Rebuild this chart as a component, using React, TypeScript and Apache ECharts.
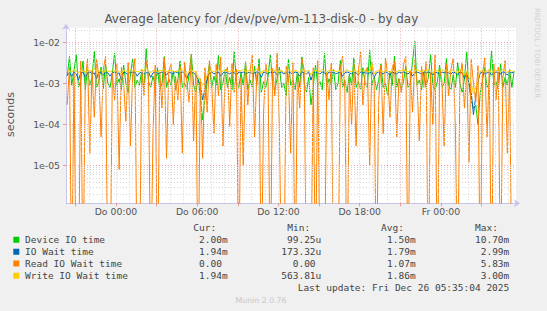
import React, { useEffect, useRef } from 'react';
import * as echarts from 'echarts';

const TITLE = 'Average latency for /dev/pve/vm-113-disk-0 - by day';
const Y_NAME = 'seconds';
const START_HOUR = -3.6;
const STEP_HOUR = 1 / 6;
const X_MIN = -3.69;
const X_MAX = 29.54;
const Y_MIN = -5.917;
const Y_MAX = -1.645;
const X_LABEL_HOURS = [0, 6, 12, 18, 24];
const X_LABELS = ['Do 00:00', 'Do 06:00', 'Do 12:00', 'Do 18:00', 'Fr 00:00'];
const X_MAJOR_GRID = [-3, 3, 9, 15, 21, 27];
const X_TICKS = [-3, 0, 3, 6, 9, 12, 15, 18, 21, 24, 27];
const Y_LABEL_LOGS = [-5, -4, -3, -2];
const Y_LABELS = ['1e-05', '1e-04', '1e-03', '1e-02'];

const NAMES = ['Device IO time', 'IO Wait time', 'Read IO Wait time', 'Write IO Wait time'];
const COLORS = ['#00cc00', '#0066b3', '#ff8000', '#ffcc00'];
const CUR = ['2.00m', '1.94m', '0.00 ', '1.94m'];
const MIN = ['99.25u', '173.32u', '0.00 ', '563.81u'];
const AVG = ['1.50m', '1.79m', '1.07m', '1.86m'];
const MAX = ['10.70m', '2.99m', '5.83m', '3.00m'];
const LAST_UPDATE = 'Last update: Fri Dec 26 05:35:04 2025';
const FOOTER = 'Munin 2.0.76';
const WATERMARK = 'RRDTOOL / TOBI OETIKER';

// values in milliseconds, 10-minute steps
const DEVICE_IO = [
  1.5, 4.5, 0.9, 2.0, 5.0, 0.8, 1.2, 3.5, 0.7, 2.2,
  0.9, 1.4, 6.0, 0.8, 1.1, 2.5, 0.75, 3.0, 1.0, 0.8,
  1.8, 5.5, 0.9, 1.3, 0.7, 2.8, 1.0, 0.6, 1.6, 4.0,
  0.8, 1.2, 0.9, 2.0, 0.7, 7.0, 1.1, 0.8, 1.5, 0.9,
  2.4, 0.7, 1.0, 4.5, 0.8, 1.3, 0.9, 2.0, 0.7, 1.2,
  3.5, 0.8, 1.0, 0.75, 1.6, 5.2, 0.9, 0.6, 1.3, 0.5,
  0.13, 0.4, 1.1, 3.0, 0.8, 1.5, 0.9, 4.8, 0.7, 1.0,
  2.2, 0.8, 1.4, 0.7, 6.0, 1.0, 0.8, 1.8, 0.9, 3.2,
  0.7, 1.2, 0.8, 2.6, 0.9, 4.0, 0.6, 1.1, 0.8, 1.5,
  5.0, 0.9, 0.7, 1.3, 2.5, 0.8, 1.0, 0.5, 3.8, 0.9,
  1.2, 0.7, 2.0, 0.8, 4.4, 1.0, 0.6, 1.4, 0.3, 0.8,
  2.8, 0.9, 1.1, 0.7, 5.5, 0.8, 1.3, 0.9, 2.2, 0.7,
  1.0, 3.6, 0.8, 1.2, 0.6, 1.7, 0.9, 4.2, 0.8, 1.1,
  0.7, 2.4, 1.0, 0.8, 6.5, 0.9, 1.5, 0.7, 1.2, 3.0,
  0.8, 1.0, 0.5, 2.0, 0.9, 4.6, 0.8, 1.3, 0.7, 1.1,
  2.6, 0.8, 1.0, 3.4, 10.7, 0.9, 1.2, 0.7, 2.0, 0.8,
  1.4, 5.0, 0.9, 0.7, 1.1, 2.8, 0.8, 1.0, 4.0, 0.9,
  0.7, 1.6, 0.8, 3.2, 1.0, 0.6, 1.3, 5.8, 0.8, 0.4,
  0.25, 0.3, 0.099, 0.6, 1.2, 2.4, 0.8, 1.0, 6.2, 0.9,
  1.1, 0.7, 3.0, 0.8, 1.4, 0.9, 2.2, 0.8, 2.0,
];
const IO_WAIT = [
  1.6, 1.8, 1.5, 1.9, 1.7, 1.2, 1.8, 1.9, 1.4, 1.8,
  1.9, 1.7, 1.8, 1.3, 1.9, 1.8, 1.6, 1.9, 1.8, 1.5,
  1.8, 1.9, 1.7, 1.8, 1.2, 1.9, 1.8, 1.6, 1.9, 1.8,
  1.9, 1.5, 1.8, 1.9, 1.7, 1.8, 1.9, 1.4, 1.8, 1.9,
  1.7, 1.8, 1.9, 1.8, 1.6, 1.9, 1.8, 1.7, 1.9, 1.8,
  1.8, 1.9, 1.7, 1.3, 1.8, 1.9, 1.8, 1.6, 1.2, 0.9,
  0.4, 0.7, 1.3, 1.8, 1.9, 1.7, 1.8, 1.9, 1.5, 1.8,
  1.9, 1.8, 1.7, 1.9, 1.8, 1.6, 1.9, 1.8, 1.9, 1.7,
  1.8, 1.9, 1.7, 1.8, 1.9, 1.8, 1.4, 1.9, 1.8, 1.7,
  1.9, 1.8, 1.9, 1.6, 1.8, 1.9, 1.7, 1.8, 1.9, 1.8,
  1.7, 1.9, 1.8, 1.5, 1.9, 1.8, 1.7, 1.9, 1.2, 1.8,
  1.9, 1.8, 1.7, 1.9, 1.8, 1.6, 1.9, 1.8, 1.9, 1.7,
  1.8, 1.9, 1.5, 1.8, 1.9, 1.8, 1.7, 1.9, 1.8, 1.6,
  1.9, 1.8, 1.9, 1.7, 1.8, 1.9, 1.4, 1.8, 1.9, 1.8,
  1.7, 1.9, 1.8, 1.6, 1.9, 1.8, 1.7, 1.9, 1.8, 1.9,
  1.8, 1.7, 1.9, 1.5, 1.8, 1.9, 1.8, 1.7, 1.9, 1.8,
  1.9, 1.8, 1.6, 1.9, 1.8, 1.7, 1.9, 1.8, 1.9, 1.8,
  1.7, 1.9, 1.8, 1.6, 1.9, 1.8, 1.3, 1.8, 1.0, 0.6,
  0.173, 0.5, 1.1, 1.8, 1.9, 1.7, 1.8, 1.9, 1.6, 1.8,
  1.9, 1.8, 1.7, 1.9, 1.8, 1.6, 1.9, 1.8, 1.94,
];
const READ_WAIT = [
  0.3, 2.5, 0, 1.8, 0, 0, 3.5, 0, 1.2, 4.0,
  0.02, 2.0, 0.15, 3.8, 1.5, 0.05, 2.2, 4.5, 0, 0,
  1.8, 0.4, 3.0, 0.008, 2.5, 1.0, 0.12, 3.2, 0.03, 1.6,
  4.0, 0, 0, 2.2, 0.5, 3.5, 1.4, 0, 0.06, 2.8,
  0, 1.9, 0.25, 4.2, 0.015, 2.0, 3.0, 0.1, 1.5, 0.4,
  2.6, 0.02, 3.3, 1.1, 0.35, 5.0, 0.04, 2.0, 0, 1.3,
  0.015, 2.4, 0.2, 3.6, 1.0, 0.06, 2.9, 0.5, 4.4, 0.03,
  1.7, 2.5, 0.09, 3.1, 0.6, 2.2, 0, 1.4, 0.01, 3.4,
  0.3, 2.0, 4.8, 0.05, 1.6, 2.7, 0, 0.2, 3.0, 1.2,
  0, 2.3, 0.5, 5.5, 0.08, 0, 0, 2.6, 1.5, 0.02,
  3.2, 0, 1.8, 0.25, 4.0, 2.1, 0, 0, 0, 2.4,
  0, 3.6, 0, 0, 0, 1.9, 0.4, 3.1, 0, 0,
  0, 2.2, 4.6, 0.7, 0, 1.5, 0.1, 3.0, 0.03, 2.0,
  5.8, 0.3, 1.7, 2.5, 0.01, 3.3, 1.1, 0, 0.4, 2.8,
  0.06, 4.1, 1.6, 0.15, 2.4, 3.5, 0.05, 1.3, 0.6, 2.9,
  4.5, 0, 2.0, 0.2, 3.7, 1.0, 0.04, 2.6, 0.8, 3.4,
  0, 1.8, 0.1, 4.9, 0, 2.3, 1.2, 0.03, 3.0, 0.5,
  2.2, 4.0, 0.07, 0, 1.5, 3.2, 0.25, 2.0, 0.012, 3.8,
  1.0, 0.35, 2.7, 0, 1.6, 4.2, 0.05, 2.1, 0, 3.0,
  0.4, 2.5, 0, 1.3, 3.6, 0.02, 2.0, 0, 0,
];
const WRITE_WAIT = [
  2.0, 2.1, 1.9, 2.2, 2.0, 1.8, 2.1, 2.0, 1.9, 2.2,
  2.0, 2.1, 2.3, 1.9, 2.0, 2.1, 1.8, 2.2, 2.0, 1.9,
  2.1, 2.0, 2.2, 1.9, 1.7, 2.1, 2.0, 1.9, 2.2, 2.0,
  2.1, 1.9, 2.0, 2.2, 2.0, 2.4, 2.0, 1.8, 2.1, 2.0,
  1.9, 2.1, 2.0, 2.2, 1.9, 2.0, 2.1, 2.0, 1.9, 2.1,
  2.0, 2.2, 1.9, 1.6, 2.0, 2.1, 2.0, 1.8, 1.5, 1.2,
  0.9, 1.1, 1.6, 2.0, 2.1, 1.9, 2.0, 2.2, 1.9, 2.0,
  2.1, 2.0, 1.9, 2.2, 2.0, 1.8, 2.1, 2.0, 2.2, 1.9,
  2.0, 2.1, 1.9, 2.0, 2.2, 2.0, 1.7, 2.1, 2.0, 1.9,
  2.2, 2.0, 2.1, 1.9, 2.0, 2.1, 1.8, 2.0, 2.2, 2.0,
  1.9, 2.1, 2.0, 1.8, 2.2, 2.0, 1.9, 2.1, 1.6, 2.0,
  2.1, 2.0, 1.9, 2.2, 2.0, 1.8, 2.1, 2.0, 2.2, 1.9,
  2.0, 2.1, 1.8, 2.0, 2.2, 2.0, 1.9, 2.1, 2.0, 1.8,
  2.2, 2.0, 2.1, 1.9, 2.0, 3.0, 1.7, 2.0, 2.1, 2.0,
  1.9, 2.1, 2.0, 1.8, 2.2, 2.0, 1.9, 2.1, 2.0, 2.2,
  2.0, 1.9, 2.1, 1.8, 2.0, 2.2, 2.0, 1.9, 2.1, 2.0,
  2.2, 2.0, 1.8, 2.1, 2.0, 1.9, 2.2, 2.0, 2.1, 1.9,
  2.0, 2.1, 1.9, 1.8, 2.2, 2.0, 1.6, 2.0, 1.4, 1.0,
  0.564, 0.8, 1.3, 2.0, 2.1, 1.9, 2.0, 2.2, 1.8, 2.0,
  2.1, 2.0, 1.9, 2.2, 2.0, 1.8, 2.1, 2.0, 1.94,
];
const SERIES_VALUES = [DEVICE_IO, IO_WAIT, READ_WAIT, WRITE_WAIT];

const toPoints = (arr: number[]) =>
  arr.map((v, i) => [START_HOUR + i * STEP_HOUR, v > 0 ? Math.log10(v / 1000) : -8]);

export default function App() {
  const ref = useRef<HTMLDivElement>(null);
  useEffect(() => {
    document.body.style.margin = '0';
    const chart = echarts.init(ref.current!, null, { renderer: 'svg' });

    const yMinor: number[] = [];
    for (let n = -6; n <= -2; n++) {
      for (let k = 2; k <= 9; k++) {
        const v = n + Math.log10(k);
        if (v > Y_MIN && v < Y_MAX) yMinor.push(v);
      }
    }
    const xMinor: number[] = [];
    for (let h = Math.ceil(X_MIN); h <= Math.floor(X_MAX); h++) {
      if (!X_MAJOR_GRID.includes(h)) xMinor.push(h);
    }

    const gridSeries = (lines: any[], color: string) => ({
      type: 'line',
      data: [],
      z: 1,
      silent: true,
      markLine: {
        silent: true,
        symbol: 'none',
        animation: false,
        label: { show: false },
        lineStyle: { color, width: 1, type: [1, 2] },
        data: lines,
      },
    });

    const mono = 'DejaVu Sans Mono';
    const cw = 5.72;
    const rowY = [239.7, 251.7, 263.5, 275.7];
    const colRight = [227.7, 321.3, 415.7, 509.3];
    const cols = [CUR, MIN, AVG, MAX];
    const graphics: any[] = [
      {
        type: 'text', x: 261.3, y: 19,
        style: { text: TITLE, fill: '#555', font: '11.9px "DejaVu Sans"', textAlign: 'center', textVerticalAlign: 'middle' },
      },
      {
        type: 'text', x: 10.7, y: 114.5, rotation: Math.PI / 2,
        style: { text: Y_NAME, fill: '#555', font: '11px "DejaVu Sans"', textAlign: 'center', textVerticalAlign: 'middle' },
      },
      {
        type: 'text', x: 537, y: 53, rotation: -Math.PI / 2,
        style: { text: WATERMARK, fill: '#d0d0d0', font: '7px "DejaVu Sans"', textAlign: 'center', textVerticalAlign: 'middle' },
      },
      {
        type: 'text', x: 261, y: 300,
        style: { text: FOOTER, fill: '#c8c8c8', font: '7.8px "DejaVu Sans"', textAlign: 'center', textVerticalAlign: 'middle' },
      },
    ];
    const headers = ['Cur:', 'Min:', 'Avg:', 'Max:'];
    const headerX = [193.3, 287.3, 381, 475];
    headers.forEach((h, i) => {
      graphics.push({
        type: 'text', x: headerX[i], y: 227.7,
        style: { text: h, fill: '#444', font: `9.5px "${mono}"`, textAlign: 'left', textVerticalAlign: 'middle' },
      });
    });
    NAMES.forEach((name, r) => {
      graphics.push({
        type: 'rect', shape: { x: 13.3, y: rowY[r] - 3, width: 6, height: 6 },
        style: { fill: COLORS[r] },
      });
      graphics.push({
        type: 'text', x: 25, y: rowY[r],
        style: { text: name, fill: '#444', font: `9.5px "${mono}"`, textAlign: 'left', textVerticalAlign: 'middle' },
      });
      cols.forEach((col, c) => {
        const s = col[r];
        graphics.push({
          type: 'text', x: colRight[c] - s.length * cw, y: rowY[r],
          style: { text: s, fill: '#444', font: `9.5px "${mono}"`, textAlign: 'left', textVerticalAlign: 'middle' },
        });
      });
    });
    graphics.push({
      type: 'text', x: 509.3 - LAST_UPDATE.length * cw, y: 287.7,
      style: { text: LAST_UPDATE, fill: '#444', font: `9.5px "${mono}"`, textAlign: 'left', textVerticalAlign: 'middle' },
    });

    const axisColor = '#c4c4ec';
    chart.setOption({
      animation: false,
      backgroundColor: '#f0f0f0',
      grid: {
        left: 66, right: 31, top: 27.7, bottom: 107.7,
        show: true, backgroundColor: '#ffffff', borderWidth: 0,
      },
      xAxis: {
        type: 'value', min: X_MIN, max: X_MAX,
        axisLine: { show: true, onZero: false, lineStyle: { color: axisColor, width: 1 }, symbol: ['none', 'arrow'], symbolSize: [6, 6], symbolOffset: [0, 4] },
        axisTick: { show: true, customValues: X_TICKS, length: 3, lineStyle: { color: '#e89a9a' } },
        axisLabel: {
          show: true, customValues: X_LABEL_HOURS, margin: 4,
          formatter: (v: number) => X_LABELS[X_LABEL_HOURS.indexOf(Math.round(v))] ?? '',
          color: '#555', fontFamily: 'DejaVu Sans', fontSize: 9.3,
        },
        splitLine: { show: false },
      },
      yAxis: {
        type: 'value', min: Y_MIN, max: Y_MAX,
        axisLine: { show: true, onZero: false, lineStyle: { color: axisColor, width: 1 }, symbol: ['none', 'arrow'], symbolSize: [6, 6], symbolOffset: [0, 4] },
        axisTick: { show: true, customValues: Y_LABEL_LOGS, length: 3, lineStyle: { color: '#e89a9a' } },
        axisLabel: {
          show: true, customValues: Y_LABEL_LOGS, margin: 6,
          formatter: (v: number) => Y_LABELS[Y_LABEL_LOGS.indexOf(Math.round(v))] ?? '',
          color: '#555', fontFamily: 'DejaVu Sans', fontSize: 9.3,
        },
        splitLine: { show: false },
      },
      series: [
        gridSeries(yMinor.map((v) => ({ yAxis: v })), '#d6d6d6'),
        gridSeries(xMinor.map((v) => ({ xAxis: v })), '#d6d6d6'),
        gridSeries(Y_LABEL_LOGS.map((v) => ({ yAxis: v })), '#eaa0a0'),
        gridSeries(X_MAJOR_GRID.map((v) => ({ xAxis: v })), '#eaa0a0'),
        ...SERIES_VALUES.map((vals, i) => ({
          type: 'line',
          name: NAMES[i],
          data: toPoints(vals),
          showSymbol: false,
          symbol: 'none',
          clip: true,
          z: 2 + i,
          lineStyle: { color: COLORS[i], width: 1 },
          itemStyle: { color: COLORS[i] },
        })),
      ],
      graphic: graphics,
    });
    return () => chart.dispose();
  }, []);
  return <div ref={ref} style={{ width: 547, height: 311 }} />;
}
